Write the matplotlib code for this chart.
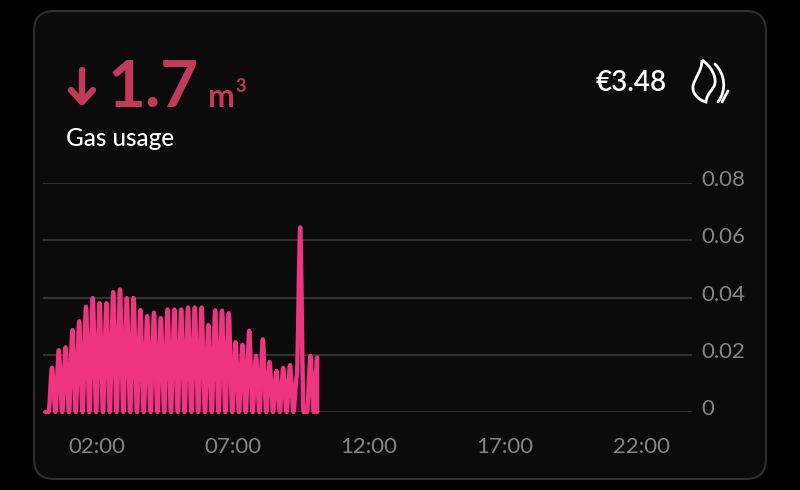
import numpy as np
import matplotlib
matplotlib.use("Agg")
import matplotlib.pyplot as plt
from matplotlib.patches import FancyBboxPatch, PathPatch
from matplotlib.path import Path
from matplotlib.transforms import ScaledTranslation

plt.rcParams["font.family"] = ["Lato", "DejaVu Sans"]

# gas usage in m3, one value every 7.5 minutes starting at start_hour
start_hour = 0.095
slot_hours = 0.125
usage = [
    0, 0, .0155, 0, .0216, 0, .0226, 0, .0286, 0, .0317, 0, .0368, 0, .0398, 0,
    .038, 0, .038, 0, .0419, 0, .0428, 0, .0398, 0, .0398, 0, .0356, 0, .0335, 0,
    .0347, 0, .0328, 0, .0358, 0, .0358, 0, .0358, 0, .0365, 0, .0365, 0, .0365, 0,
    .0304, 0, .0355, 0, .0354, 0, .0345, 0, .0244, 0, .0235, 0, .0284, 0, .0196, 0,
    .0254, 0, .0175, 0, .0144, 0, .0154, 0, .0164, 0, .0126, .0645, 0, 0, .0196, 0,
    .0191,
]
hour_ticks = [2, 7, 12, 17, 22]
hour_labels = ["02:00", "07:00", "12:00", "17:00", "22:00"]
usage_ticks = [0, 0.02, 0.04, 0.06, 0.08]
usage_labels = ["0", "0.02", "0.04", "0.06", "0.08"]

W, H = 800, 490
PINK = "#ee3580"
RED = "#c13a5c"
fig = plt.figure(figsize=(W / 100, H / 100), dpi=100, facecolor="black")

# overlay in pixel coordinates for the card, headline and icon
bg = fig.add_axes([0, 0, 1, 1], zorder=0)
bg.set_xlim(0, W)
bg.set_ylim(H, 0)
bg.axis("off")
bg.add_patch(FancyBboxPatch((34, 11), 732, 468, boxstyle="round,pad=0,rounding_size=20",
                            fc="#0b0b0b", ec="#2f2f2f", lw=1.5))

bg.text(108, 107, "1.7", color=RED, fontsize=47, fontweight="bold", va="baseline", ha="left")
bg.text(208, 107, "m", color=RED, fontsize=23, fontweight="bold", va="baseline", ha="left")
bg.text(235, 92, "3", color=RED, fontsize=13, fontweight="bold", va="baseline", ha="left")
bg.text(66, 146, "Gas usage", color="white", fontsize=17.5, fontweight="medium", va="baseline", ha="left")
bg.text(667, 91, "€3.48", color="white", fontsize=20, fontweight="semibold", va="baseline", ha="right")

# down arrow
bg.plot([82, 82], [70, 102], color=RED, lw=4.6, solid_capstyle="round")
bg.plot([71, 82, 93], [90, 102, 90], color=RED, lw=4.6, solid_capstyle="round",
        solid_joinstyle="round")

# flame icon
flame = Path([(702, 60), (711, 66), (716, 76), (715, 83), (714, 90), (707, 92), (706, 102),
              (698, 100), (692, 93), (693, 86), (695, 77), (702, 71), (702, 60)],
             [Path.MOVETO] + [Path.CURVE4] * 12)
bg.add_patch(PathPatch(flame, fc="none", ec="white", lw=2))
swoosh = Path([(715, 64), (725, 74), (727, 90), (718, 102)], [Path.MOVETO, Path.CURVE4, Path.CURVE4, Path.CURVE4])
bg.add_patch(PathPatch(swoosh, fc="none", ec="white", lw=2, capstyle="round"))
bg.plot([722, 728], [102, 91], color="white", lw=2, solid_capstyle="round")

# main chart
left, right, top, bottom = 43, 692, 183, 412
ax = fig.add_axes([left / W, 1 - bottom / H, (right - left) / W, (bottom - top) / H], zorder=1)
ax.patch.set_alpha(0)
ax.set_xlim(2 + (left - 97) / 27.2, 2 + (right - 97) / 27.2)
ax.set_ylim(0, 0.08)
for s in ax.spines.values():
    s.set_visible(False)

hours = start_hour + slot_hours * np.arange(len(usage))
ax.yaxis.tick_right()
ax.set_yticks(usage_ticks, usage_labels)
ax.set_xticks(hour_ticks, hour_labels)
ax.grid(axis="y", color="#333333", lw=1.5)
ax.set_axisbelow(True)
ax.tick_params(length=0, labelsize=16, labelcolor="#858585")
ax.tick_params(axis="x", pad=18)
ax.tick_params(axis="y", pad=7)
shift = ScaledTranslation(0, 5 / 72 * 0.72, fig.dpi_scale_trans)
for lab in ax.get_yticklabels():
    lab.set_transform(lab.get_transform() + shift)

# rounded curve through the points, then straight down at the end
verts = [(hours[0], usage[0])]
codes = [Path.MOVETO]
for i in range(len(usage) - 1):
    step = (hours[i + 1] - hours[i]) * 0.3
    verts += [(hours[i] + step, usage[i]), (hours[i + 1] - step, usage[i + 1]), (hours[i + 1], usage[i + 1])]
    codes += [Path.CURVE4] * 3
verts.append((hours[-1], 0))
codes.append(Path.LINETO)
ax.add_patch(PathPatch(Path(verts, codes), fc="#5a1650", ec="none", alpha=0.55))
ax.add_patch(PathPatch(Path(verts, codes), fc="none", ec=PINK, lw=3.1, joinstyle="round",
                       capstyle="round", clip_on=False))

fig.savefig("out.png", dpi=100, facecolor="black")
plt.close(fig)
